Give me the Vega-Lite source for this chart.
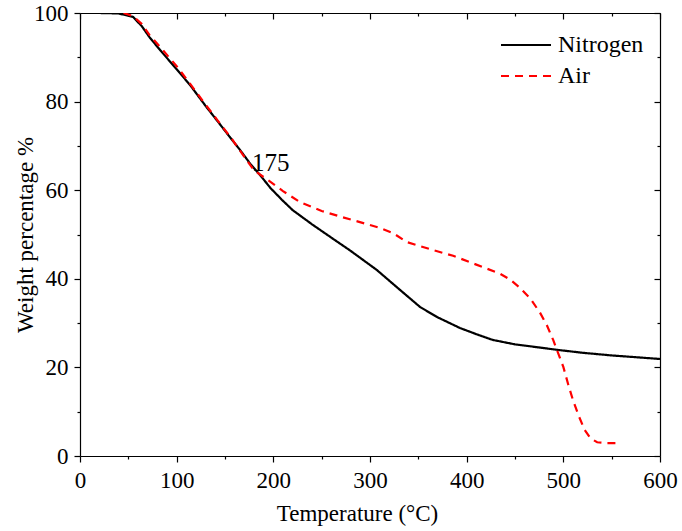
{
  "$schema": "https://vega.github.io/schema/vega-lite/v6.json",
  "width": 580,
  "height": 443,
  "autosize": "none",
  "padding": {"left": 80, "top": 13, "right": 22, "bottom": 75},
  "background": "white",
  "config": {
    "view": {"stroke": null},
    "font": "Liberation Serif",
    "axis": {"grid": false, "domainColor": "black", "domainWidth": 1.2, "tickColor": "black", "tickWidth": 1.2, "labelColor": "black", "titleColor": "black", "labelFont": "Liberation Serif", "titleFont": "Liberation Serif", "labelFontSize": 23, "titleFontSize": 23, "titleFontWeight": "normal"}
  },
  "datasets": {
    "tga": [
      {"T": 20, "w": 100, "series": "Nitrogen"},
      {"T": 40, "w": 99.9, "series": "Nitrogen"},
      {"T": 55, "w": 99.1, "series": "Nitrogen"},
      {"T": 64, "w": 97.0, "series": "Nitrogen"},
      {"T": 72, "w": 94.5, "series": "Nitrogen"},
      {"T": 83, "w": 91.6, "series": "Nitrogen"},
      {"T": 100, "w": 87.3, "series": "Nitrogen"},
      {"T": 114, "w": 83.7, "series": "Nitrogen"},
      {"T": 130, "w": 79, "series": "Nitrogen"},
      {"T": 141.5, "w": 75.8, "series": "Nitrogen"},
      {"T": 155, "w": 72, "series": "Nitrogen"},
      {"T": 165.5, "w": 69.1, "series": "Nitrogen"},
      {"T": 176, "w": 66, "series": "Nitrogen"},
      {"T": 186, "w": 63.5, "series": "Nitrogen"},
      {"T": 197, "w": 60.5, "series": "Nitrogen"},
      {"T": 209, "w": 57.8, "series": "Nitrogen"},
      {"T": 220, "w": 55.5, "series": "Nitrogen"},
      {"T": 240, "w": 52.3, "series": "Nitrogen"},
      {"T": 258.6, "w": 49.5, "series": "Nitrogen"},
      {"T": 280, "w": 46.3, "series": "Nitrogen"},
      {"T": 307, "w": 42, "series": "Nitrogen"},
      {"T": 331, "w": 37.5, "series": "Nitrogen"},
      {"T": 352, "w": 33.6, "series": "Nitrogen"},
      {"T": 370, "w": 31.3, "series": "Nitrogen"},
      {"T": 393, "w": 28.9, "series": "Nitrogen"},
      {"T": 410, "w": 27.5, "series": "Nitrogen"},
      {"T": 427, "w": 26.2, "series": "Nitrogen"},
      {"T": 450, "w": 25.2, "series": "Nitrogen"},
      {"T": 475, "w": 24.5, "series": "Nitrogen"},
      {"T": 496, "w": 23.9, "series": "Nitrogen"},
      {"T": 520, "w": 23.3, "series": "Nitrogen"},
      {"T": 550, "w": 22.7, "series": "Nitrogen"},
      {"T": 575, "w": 22.3, "series": "Nitrogen"},
      {"T": 600, "w": 21.9, "series": "Nitrogen"},
      {"T": 45, "w": 100, "series": "Air"},
      {"T": 55, "w": 99.3, "series": "Air"},
      {"T": 64, "w": 97.5, "series": "Air"},
      {"T": 72, "w": 95, "series": "Air"},
      {"T": 83, "w": 92.3, "series": "Air"},
      {"T": 100, "w": 88, "series": "Air"},
      {"T": 114, "w": 84, "series": "Air"},
      {"T": 130, "w": 79.3, "series": "Air"},
      {"T": 141.5, "w": 76, "series": "Air"},
      {"T": 158, "w": 71.3, "series": "Air"},
      {"T": 170, "w": 67.5, "series": "Air"},
      {"T": 180, "w": 64.5, "series": "Air"},
      {"T": 193, "w": 62.5, "series": "Air"},
      {"T": 210, "w": 59.8, "series": "Air"},
      {"T": 227.6, "w": 57.3, "series": "Air"},
      {"T": 250, "w": 55.3, "series": "Air"},
      {"T": 270, "w": 54, "series": "Air"},
      {"T": 289.6, "w": 52.8, "series": "Air"},
      {"T": 310, "w": 51.5, "series": "Air"},
      {"T": 324, "w": 50.3, "series": "Air"},
      {"T": 338, "w": 48.3, "series": "Air"},
      {"T": 365, "w": 46.5, "series": "Air"},
      {"T": 386, "w": 45.2, "series": "Air"},
      {"T": 410, "w": 43.2, "series": "Air"},
      {"T": 434, "w": 41.2, "series": "Air"},
      {"T": 445, "w": 39.8, "series": "Air"},
      {"T": 455, "w": 38, "series": "Air"},
      {"T": 466, "w": 35.5, "series": "Air"},
      {"T": 476, "w": 32.3, "series": "Air"},
      {"T": 483, "w": 29.5, "series": "Air"},
      {"T": 489.5, "w": 26.2, "series": "Air"},
      {"T": 495, "w": 23, "series": "Air"},
      {"T": 500, "w": 20.1, "series": "Air"},
      {"T": 505, "w": 16.2, "series": "Air"},
      {"T": 510, "w": 12.6, "series": "Air"},
      {"T": 516, "w": 9, "series": "Air"},
      {"T": 522, "w": 5.9, "series": "Air"},
      {"T": 528, "w": 4, "series": "Air"},
      {"T": 535, "w": 3.1, "series": "Air"},
      {"T": 545, "w": 2.9, "series": "Air"},
      {"T": 557, "w": 2.9, "series": "Air"}
    ],
    "note": [{"T": 178, "w": 64.3, "label": "175"}]
  },
  "resolve": {"axis": {"x": "independent", "y": "independent"}},
  "layer": [
    {
      "data": {"name": "tga"},
      "mark": {"type": "line", "strokeWidth": 2.2, "clip": true},
      "encoding": {
        "x": {"field": "T", "type": "quantitative", "scale": {"domain": [0, 600], "nice": false},
          "axis": {"title": "Temperature (°C)", "titleX": 277, "titleAlign": "center", "values": [0,50,100,150,200,250,300,350,400,450,500,550,600], "labelExpr": "datum.value % 100 === 0 ? datum.label : ''", "tickSize": {"condition": {"test": "datum.value % 100 === 0", "value": 6}, "value": 3}, "labelPadding": 7, "titlePadding": 10, "labelFlush": false}},
        "y": {"field": "w", "type": "quantitative", "scale": {"domain": [0, 100], "nice": false},
          "axis": {"title": "Weight percentage %", "values": [0,10,20,30,40,50,60,70,80,90,100], "labelExpr": "datum.value % 20 === 0 ? datum.label : ''", "tickSize": {"condition": {"test": "datum.value % 20 === 0", "value": 6}, "value": 3}, "labelPadding": 6, "titlePadding": -4, "labelFlush": false}},
        "color": {"field": "series", "type": "nominal", "sort": ["Nitrogen", "Air"], "scale": {"domain": ["Nitrogen", "Air"], "range": ["black", "#ff0000"]},
          "legend": {"title": null, "orient": "none", "legendX": 420, "legendY": 17, "symbolType": "stroke", "symbolSize": 2500, "symbolStrokeWidth": 2, "labelFontSize": 24, "labelFont": "Liberation Serif", "labelColor": "black", "clipHeight": 30, "rowPadding": 1, "labelOffset": 6}},
        "strokeDash": {"field": "series", "type": "nominal", "sort": ["Nitrogen", "Air"], "scale": {"domain": ["Nitrogen", "Air"], "range": [[1, 0], [8, 6]]},
          "legend": {"title": null, "orient": "none", "legendX": 420, "legendY": 17, "symbolType": "stroke", "symbolSize": 2500, "symbolStrokeWidth": 2, "labelFontSize": 24, "labelFont": "Liberation Serif", "labelColor": "black", "clipHeight": 30, "rowPadding": 1, "labelOffset": 6}}
      }
    },
    {
      "data": {"name": "note"},
      "mark": {"type": "text", "align": "left", "baseline": "alphabetic", "fontSize": 25, "font": "Liberation Serif", "color": "black"},
      "encoding": {
        "x": {"field": "T", "type": "quantitative", "axis": {"orient": "top", "title": null, "values": [0,50,100,150,200,250,300,350,400,450,500,550,600], "labels": false, "tickSize": {"condition": {"test": "datum.value % 100 === 0", "value": -6}, "value": -3}}},
        "y": {"field": "w", "type": "quantitative", "axis": {"orient": "right", "title": null, "values": [0,10,20,30,40,50,60,70,80,90,100], "labels": false, "tickSize": {"condition": {"test": "datum.value % 20 === 0", "value": -6}, "value": -3}}},
        "text": {"field": "label"}
      }
    }
  ]
}
